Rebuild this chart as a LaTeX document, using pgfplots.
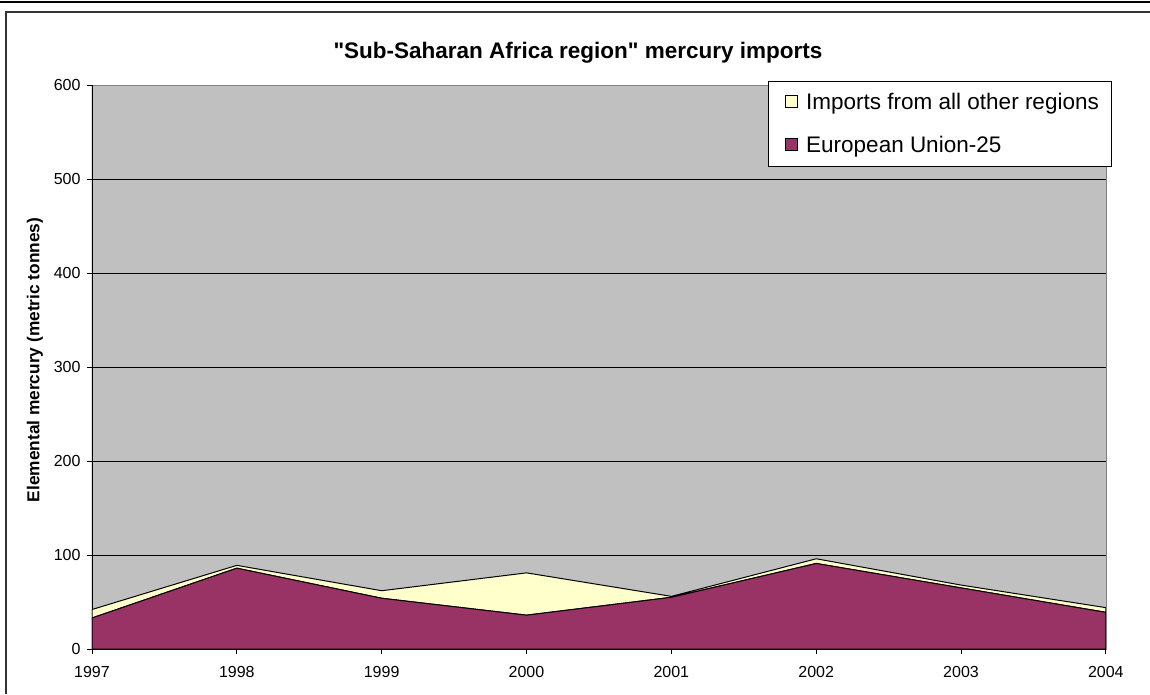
\documentclass[border=0pt]{standalone}
\usepackage{fontspec}
\setmainfont{Liberation Sans}
\usepackage{pgfplots}
\pgfplotsset{compat=1.18}
\definecolor{plotgray}{HTML}{C0C0C0}
\definecolor{eumaroon}{HTML}{993366}
\definecolor{paleyellow}{HTML}{FFFFCC}
\definecolor{framegray}{HTML}{808080}
\newcommand\dq{\XeTeXglyph\XeTeXcharglyph"22\relax}
\begin{document}
\begin{tikzpicture}[x=1pt,y=1pt]
\useasboundingbox (0,0) rectangle (1150,694);
\fill[white] (0,0) rectangle (1150,694);
% top rule and chart frame
\draw[black,line width=2.5pt] (0,692) -- (1150,692);
\draw[black!80,line width=1.5pt] (6,0) -- (6,682) -- (1150,682);
\begin{axis}[
  at={(92pt,45pt)}, anchor=south west,
  scale only axis, width=1014pt, height=564pt,
  xmin=1997, xmax=2004, ymin=0, ymax=600,
  xtick={1997,...,2004}, ytick={0,100,...,600},
  xtick pos=left, ytick pos=left,
  tick align=outside, major tick length=5pt,
  tick style={black, line width=0.8pt},
  /pgf/number format/assume math mode=true,
  /pgf/number format/1000 sep={},
  tick label style={font=\fontsize{16}{18}\selectfont},
  yticklabel style={xshift=-3pt},
  xticklabel style={yshift=-9pt},
  axis background/.style={fill=plotgray},
  axis line style={draw=framegray, line width=0.8pt},
  ymajorgrids, major grid style={black, line width=0.8pt},
  stack plots=y,
  ylabel={\bfseries Elemental mercury (metric tonnes)},
  ylabel style={font=\fontsize{17.3}{19}\selectfont, at={(-57pt,289pt)}, anchor=center},
  title={\bfseries \dq Sub-Saharan Africa region\dq{} mercury imports},
  title style={font=\fontsize{22.5}{26}\selectfont, at={(486pt,590pt)}, anchor=center},
  reverse legend,
  legend style={at={(676pt,568pt)}, anchor=north west, draw=black, fill=white,
    font=\fontsize{22.5}{25}\selectfont, row sep=21pt, inner xsep=9pt, inner ysep=10pt,
    nodes={inner xsep=3pt}},
  legend cell align=left,
  legend image code/.code={\path[draw=none,fill=none] (0pt,0pt) -- (26pt,0pt);\draw[#1,draw=black,line width=0.6pt] (8pt,-5.5pt) rectangle (20pt,6.5pt);},
]
\addplot[fill=eumaroon, draw=black, line width=1pt] coordinates {
  (1997,33) (1998,86) (1999,54) (2000,36) (2001,55) (2002,91) (2003,65) (2004,39)
} \closedcycle;
\addlegendentry{European Union-25}
\addplot[fill=paleyellow, draw=black, line width=1pt] coordinates {
  (1997,9) (1998,3) (1999,8) (2000,45) (2001,1) (2002,5) (2003,3) (2004,5)
} \closedcycle;
\addlegendentry{Imports from all other regions}
\draw[black, line width=1pt] (rel axis cs:0,1) -- (rel axis cs:0,0) -- (rel axis cs:1,0);
\end{axis}
\end{tikzpicture}
\end{document}
